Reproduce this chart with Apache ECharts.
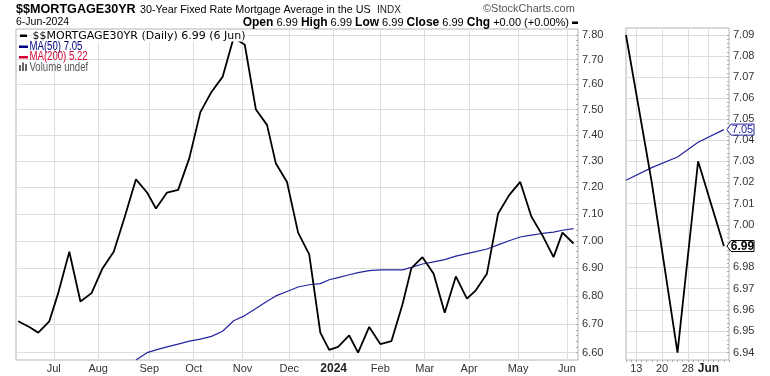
<!DOCTYPE html>
<html><head><meta charset="utf-8">
<script src="https://cdn.jsdelivr.net/npm/echarts@6/dist/echarts.min.js"></script>
<style>html,body{margin:0;padding:0;background:#fff}#c{width:770px;height:376px}</style>
</head><body><div id="c"></div>
<script>
// Weekly observation dates (Freddie Mac PMMS, Thursdays; Thanksgiving week on Wednesday)
const WEEK_DATES = [
 '2023-06-08','2023-06-15','2023-06-22','2023-06-29','2023-07-06','2023-07-13','2023-07-20','2023-07-27',
 '2023-08-03','2023-08-10','2023-08-17','2023-08-24','2023-08-31','2023-09-07','2023-09-14','2023-09-21',
 '2023-09-28','2023-10-05','2023-10-12','2023-10-19','2023-10-26','2023-11-02','2023-11-09','2023-11-16',
 '2023-11-22','2023-11-30','2023-12-07','2023-12-14','2023-12-21','2023-12-28','2024-01-04','2024-01-11',
 '2024-01-18','2024-01-25','2024-02-01','2024-02-08','2024-02-15','2024-02-22','2024-02-29','2024-03-07',
 '2024-03-14','2024-03-21','2024-03-28','2024-04-04','2024-04-11','2024-04-18','2024-04-25','2024-05-02',
 '2024-05-09','2024-05-16','2024-05-23','2024-05-30','2024-06-06'
];
const CLOSE = [
 6.71,6.69,6.67,6.71,6.81,6.96,6.78,6.81,
 6.90,6.96,7.09,7.23,7.18,7.12,7.18,7.19,
 7.31,7.49,7.57,7.63,7.79,7.76,7.50,7.44,
 7.29,7.22,7.03,6.95,6.67,6.61,6.62,6.66,
 6.60,6.69,6.63,6.64,6.77,6.90,6.94,6.88,
 6.74,6.87,6.79,6.82,6.88,7.10,7.17,7.22,
 7.09,7.02,6.94,7.03,6.99
];
const MA50 = [
 null,null,null,null,null,null,null,null,
 null,null,null,6.575,6.600,6.610,6.620,6.630,
 6.640,6.647,6.657,6.675,6.712,6.730,6.755,6.781,
 6.800,6.816,6.832,6.840,6.844,6.858,6.866,6.876,
 6.884,6.891,6.894,6.894,6.894,6.903,6.915,6.923,
 6.931,6.944,6.953,6.960,6.970,6.985,7.000,7.014,
 7.021,7.027,7.032,7.039,7.045
];
const HOLIDAYS = ['2023-06-19','2023-07-04','2023-09-04','2023-11-23','2023-12-25','2024-01-01','2024-01-15','2024-02-19','2024-03-29','2024-05-27'];
const MAIN_START = '2023-06-07', MAIN_END = '2024-06-10';
const ZOOM_START = '2024-05-09', ZOOM_END = '2024-06-07';
const MAIN_Y_TICKS = [6.60,6.70,6.80,6.90,7.00,7.10,7.20,7.30,7.40,7.50,7.60,7.70,7.80];
const ZOOM_Y_TICKS = [6.94,6.95,6.96,6.97,6.98,6.99,7.00,7.01,7.02,7.03,7.04,7.05,7.06,7.07,7.08,7.09];
const MONTHS = ['Jan','Feb','Mar','Apr','May','Jun','Jul','Aug','Sep','Oct','Nov','Dec'];

function tradingDays(a, b) {
  const out = [];
  const d = new Date(a + 'T00:00:00Z'), e = new Date(b + 'T00:00:00Z');
  while (d <= e) {
    const wd = d.getUTCDay(), s = d.toISOString().slice(0, 10);
    if (wd !== 0 && wd !== 6 && HOLIDAYS.indexOf(s) < 0) out.push(s);
    d.setUTCDate(d.getUTCDate() + 1);
  }
  return out;
}
const mainCats = tradingDays(MAIN_START, MAIN_END);
const zoomCats = tradingDays(ZOOM_START, ZOOM_END);
const closeMap = {}, maMap = {};
WEEK_DATES.forEach((d, i) => { closeMap[d] = CLOSE[i]; maMap[d] = MA50[i]; });
const onCats = (cats, m) => cats.map(d => (m[d] === undefined ? null : m[d]));

function minorTicks(lo, hi, step) { const r = []; for (let v = lo; v <= hi + 1e-9; v += step) r.push(+v.toFixed(4)); return r; }

const monthStart = (cats) => (idx) => idx > 0 && cats[idx].slice(5, 7) !== cats[idx - 1].slice(5, 7);
const weekStart = (idx) => {
  if (idx <= 0) return false;
  const c = new Date(zoomCats[idx] + 'T00:00:00Z'), p = new Date(zoomCats[idx - 1] + 'T00:00:00Z');
  return c.getUTCDay() < p.getUTCDay() || (c - p) >= 7 * 864e5;
};

const FONT = '"Liberation Sans", Arial, sans-serif';
const GRID_LINE = '#dedede';
const NAVY = '#24249e';

const chart = echarts.init(document.getElementById('c'), null, { renderer: 'canvas' });
chart.setOption({
  animation: false,
  backgroundColor: '#fff',
  grid: [
    { left: 16, top: 29, width: 562, height: 331, show: true, borderColor: '#b4b4b4', borderWidth: 1, backgroundColor: '#fff' },
    { left: 626, top: 28, width: 103, height: 332, show: true, borderColor: '#b4b4b4', borderWidth: 1, backgroundColor: '#fff' }
  ],
  xAxis: [
    { type: 'category', gridIndex: 0, data: mainCats, boundaryGap: false,
      axisLine: { show: false }, axisTick: { show: false },
      axisLabel: { interval: monthStart(mainCats), margin: 3, color: '#333', fontFamily: FONT, fontSize: 11,
        formatter: (v) => { const m = +v.slice(5, 7); return m === 1 ? '{y|' + v.slice(0, 4) + '}' : MONTHS[m - 1]; },
        rich: { y: { fontWeight: 'bold', fontSize: 12, color: '#222', fontFamily: FONT } } },
      splitLine: { show: true, interval: monthStart(mainCats), lineStyle: { color: GRID_LINE, width: 1 } } },
    { type: 'category', gridIndex: 1, data: zoomCats, boundaryGap: false,
      axisLine: { show: false }, axisTick: { show: true, interval: 0, length: 2, lineStyle: { color: '#aaa' } },
      axisLabel: { interval: weekStart, margin: 3, color: '#333', fontFamily: FONT, fontSize: 11,
        formatter: (v) => { const i2 = zoomCats.indexOf(v); const prev = zoomCats[i2 - 1];
          if (prev && prev.slice(5, 7) !== v.slice(5, 7)) return '{b|' + MONTHS[+v.slice(5, 7) - 1] + '}';
          return String(+v.slice(8, 10)); },
        rich: { b: { fontWeight: 'bold', fontSize: 12, color: '#222', fontFamily: FONT } } },
      splitLine: { show: true, interval: weekStart, lineStyle: { color: GRID_LINE, width: 1 } } }
  ],
  yAxis: [
    { type: 'log', gridIndex: 0, position: 'right', min: 6.5747, max: 7.8246,
      axisLine: { show: false },
      axisTick: { show: false, customValues: MAIN_Y_TICKS },
      axisLabel: { customValues: MAIN_Y_TICKS, formatter: (v) => (+v).toFixed(2), margin: 4, color: '#333', fontFamily: FONT, fontSize: 11 },
      splitLine: { show: true, lineStyle: { color: GRID_LINE, width: 1 } } },
    { type: 'log', gridIndex: 0, position: 'right', min: 6.5747, max: 7.8246,
      axisLine: { show: false }, axisLabel: { show: false }, splitLine: { show: false },
      axisTick: { show: true, inside: true, length: 2, customValues: minorTicks(6.6, 7.8, 0.02), lineStyle: { color: '#aaa' } } },
    { type: 'log', gridIndex: 1, position: 'right', min: 6.93659, max: 7.09334,
      axisLine: { show: false },
      axisTick: { show: false, customValues: ZOOM_Y_TICKS },
      axisLabel: { customValues: ZOOM_Y_TICKS, formatter: (v) => (+v).toFixed(2), margin: 4, color: '#333', fontFamily: FONT, fontSize: 11 },
      splitLine: { show: true, lineStyle: { color: GRID_LINE, width: 1 } } },
    { type: 'log', gridIndex: 1, position: 'right', min: 6.93659, max: 7.09334,
      axisLine: { show: false }, axisLabel: { show: false }, splitLine: { show: false },
      axisTick: { show: true, inside: true, length: 2, customValues: minorTicks(6.94, 7.09, 0.002), lineStyle: { color: '#aaa' } } }
  ],
  series: [
    { type: 'line', xAxisIndex: 0, yAxisIndex: 0, data: onCats(mainCats, maMap), connectNulls: true, showSymbol: false, symbol: 'none',
      lineStyle: { color: NAVY, width: 1.2 }, z: 2 },
    { type: 'line', xAxisIndex: 0, yAxisIndex: 0, data: onCats(mainCats, closeMap), connectNulls: true, showSymbol: false, symbol: 'none',
      lineStyle: { color: '#000', width: 1.8 }, z: 3 },
    { type: 'line', xAxisIndex: 1, yAxisIndex: 2, data: onCats(zoomCats, maMap), connectNulls: true, showSymbol: false, symbol: 'none',
      lineStyle: { color: NAVY, width: 1.2 }, z: 2 },
    { type: 'line', xAxisIndex: 1, yAxisIndex: 2, data: onCats(zoomCats, closeMap), connectNulls: true, showSymbol: false, symbol: 'none',
      lineStyle: { color: '#000', width: 1.8 }, z: 3 }
  ]
});

// value tags on the zoom panel axis, positioned via the library's scale
const lastClose = CLOSE[CLOSE.length - 1], lastMA = MA50[MA50.length - 1];
const yClose = chart.convertToPixel({ yAxisIndex: 2 }, lastClose);
const yMA = chart.convertToPixel({ yAxisIndex: 2 }, lastMA);
function tag(id, y, txt, color, bold) {
  return [
    { type: 'polygon', id: id + 'p', z: 200, shape: { points: [[727, y], [731, y - 5.5], [754, y - 5.5], [754, y + 5.5], [731, y + 5.5]] },
      style: { fill: '#fff', stroke: color, lineWidth: 1 } },
    { type: 'text', id: id + 't', z: 201, x: 742.5, y: y + 0.5,
      style: { text: txt, fill: color, font: (bold ? 'bold 12px ' : '11px ') + FONT, align: 'center', verticalAlign: 'middle' } }
  ];
}
const T = (id, x, y, text, font, fill, extra, el) => Object.assign({ type: 'text', id, z: 100, x, y,
  style: Object.assign({ text, font, fill, align: 'left', verticalAlign: 'middle' }, extra || {}) }, el || {});
const R = (id, x, y, w, h, fill) => ({ type: 'rect', id, z: 100, shape: { x, y, width: w, height: h }, style: { fill } });
const NARROW = { scaleX: 0.8 };

chart.setOption({
  graphic: [
    T('t1', 16, 9.5, '$$MORTGAGE30YR', 'bold 12.6px ' + FONT, '#000'),
    T('t2', 140, 10, '30-Year Fixed Rate Mortgage Average in the US', '10.75px ' + FONT, '#000'),
    T('t3', 377, 10.5, 'INDX', '10px ' + FONT, '#222'),
    T('t4', 483, 9, '\u00A9StockCharts.com', '11px ' + FONT, '#555'),
    T('t5', 16, 22.5, '6-Jun-2024', '10.5px ' + FONT, '#000'),
    T('t6', 569, 22.5, '{b|Open} 6.99 {b|High} 6.99 {b|Low} 6.99 {b|Close} 6.99 {b|Chg} +0.00 (+0.00%)', '11px ' + FONT, '#000',
      { align: 'right', rich: { b: { font: 'bold 12px ' + FONT, fill: '#000' } } }),
    R('t7', 572, 21.5, 6, 2.5, '#000'),
    R('l1d', 20, 34.5, 7, 2.5, '#000'),
    T('l1', 31.5, 36, '$$MORTGAGE30YR (Daily) 6.99 (6 Jun)', '11px "DejaVu Sans", Verdana, sans-serif', '#000',
      { backgroundColor: '#fff', padding: [0, 1, 0, 1] }),
    R('l2d', 19, 45.5, 9, 2.5, '#000080'),
    T('l2', 29.5, 46.7, 'MA(50) 7.05', '12px ' + FONT, '#000080', null, NARROW),
    R('l3d', 19, 56, 9, 2.5, '#d40032'),
    T('l3', 29.5, 57, 'MA(200) 5.22', '12px ' + FONT, '#d40032', null, NARROW),
    R('l4a', 19, 65, 2, 6, '#666'), R('l4b', 22, 62.5, 2, 8.5, '#666'), R('l4c', 25, 64, 2, 7, '#666'),
    T('l4', 29.5, 67.3, 'Volume undef', '12px ' + FONT, '#555', null, NARROW)
  ].concat(tag('ma', yMA, '7.05', NAVY, false), tag('cl', yClose, '6.99', '#000', true))
});
</script></body></html>
